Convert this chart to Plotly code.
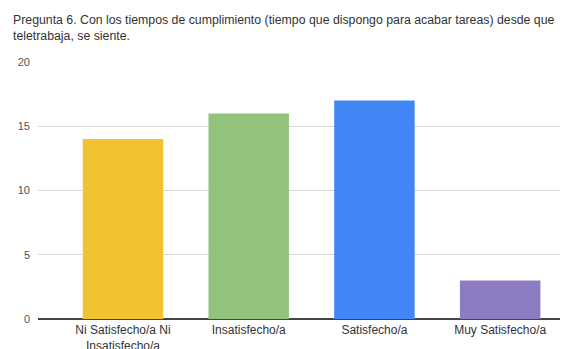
import plotly.graph_objects as go

categories = ["Ni Satisfecho/a Ni<br>Insatisfecho/a", "Insatisfecho/a", "Satisfecho/a", "Muy Satisfecho/a"]
values = [14, 16, 17, 3]
colors = ["#f1c232", "#93c47d", "#4285f4", "#8e7cc3"]
y_ticks = [0, 5, 10, 15, 20]

fig = go.Figure(
    go.Bar(
        x=list(range(len(categories))),
        y=values,
        marker=dict(color=colors, line=dict(width=0)),
        width=0.64,
    )
)

fig.update_layout(
    width=574,
    height=349,
    margin=dict(l=38, r=14, t=62, b=30),
    paper_bgcolor="white",
    plot_bgcolor="white",
    font=dict(family="Liberation Sans, Arial, sans-serif", size=10, color="#444444"),
    showlegend=False,
    annotations=[
        dict(
            text="Pregunta 6. Con los tiempos de cumplimiento (tiempo que dispongo para acabar tareas) desde que<br>teletrabaja, se siente.",
            xref="paper", yref="paper", x=-0.052, y=1.0, yshift=51,
            xanchor="left", yanchor="top", align="left", showarrow=False,
            font=dict(size=12.3, color="#333333"),
        )
    ],
)

fig.update_xaxes(
    tickmode="array",
    tickvals=list(range(len(categories))),
    ticktext=categories,
    range=[-0.676, 3.476],
    showgrid=False,
    showline=False,
    ticks="",
    automargin=False,
    ticklabelstandoff=2,
    tickfont=dict(size=12, color="#333333"),
)
fig.update_yaxes(
    range=[0, 20],
    tickvals=y_ticks,
    showgrid=True,
    gridcolor="#d9d9d9",
    gridwidth=1,
    zeroline=True,
    zerolinecolor="#444444",
    zerolinewidth=1.5,
    ticks="",
    automargin=False,
    ticklabelstandoff=7,
    tickfont=dict(size=11, color="#555555"),
)

fig.write_html("out.html")
